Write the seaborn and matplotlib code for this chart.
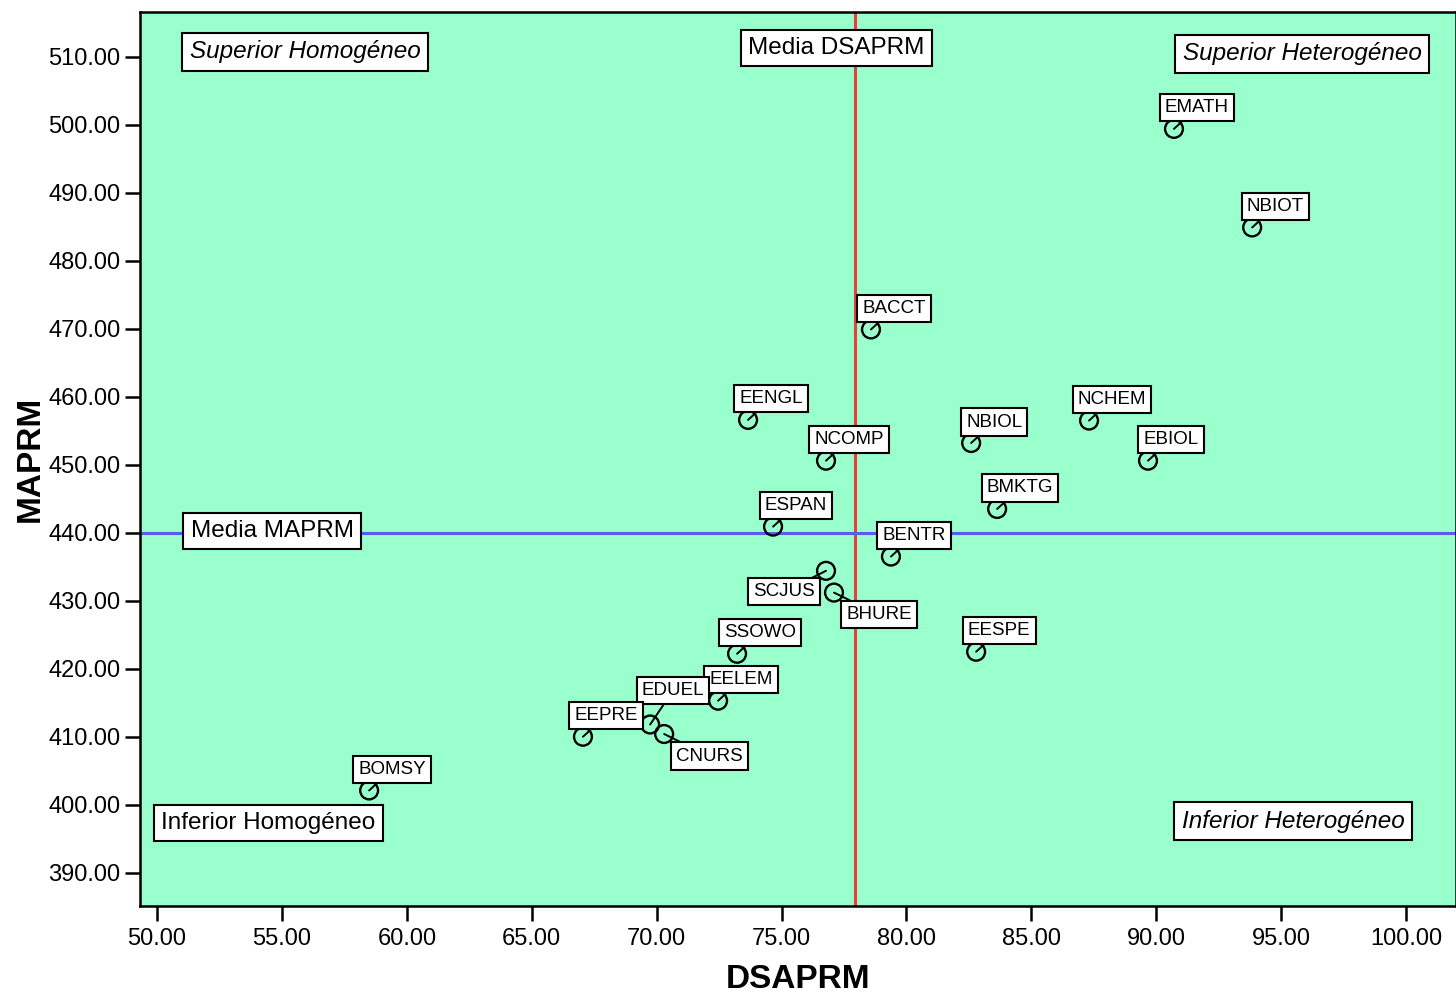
import numpy as np
import pandas as pd
import matplotlib
matplotlib.use("Agg")
import matplotlib.pyplot as plt
import seaborn as sns

# -----------------------------
# DATA
# -----------------------------
programas = ["EMATH", "NBIOT", "BACCT", "EENGL", "NCOMP", "NBIOL", "NCHEM",
             "EBIOL", "BMKTG", "ESPAN", "BENTR", "SCJUS", "BHURE", "SSOWO",
             "EESPE", "EELEM", "EDUEL", "CNURS", "EEPRE", "BOMSY"]
dsaprm = [90.71, 93.84, 78.58, 73.66, 76.78, 82.59, 87.31,
          89.67, 83.63, 74.66, 79.38, 76.78, 77.10, 73.22,
          82.79, 72.46, 69.74, 70.30, 67.05, 58.49]
maprm = [499.4, 484.9, 469.9, 456.6, 450.6, 453.2, 456.5,
         450.6, 443.5, 440.9, 436.5, 434.4, 431.2, 422.2,
         422.5, 415.3, 411.8, 410.4, 410.0, 402.1]

media_dsaprm = 77.94
media_maprm = 440.0

x_ticks = np.arange(50, 101, 5)
y_ticks = np.arange(390, 511, 10)

df = pd.DataFrame({"Programa": programas, "DSAPRM": dsaprm, "MAPRM": maprm})

# label offsets (pixels) where the label is not up-right of the point
offsets = {"SCJUS": (-42, -21), "BHURE": (45, -22),
           "CNURS": (45, -22), "EDUEL": (23, 34)}

# -----------------------------
# PLOT
# -----------------------------
sns.set_style("ticks")
plt.rcParams["font.family"] = ["Liberation Sans", "DejaVu Sans"]
plt.rcParams["text.color"] = "black"
plt.rcParams["axes.labelcolor"] = "black"
plt.rcParams["xtick.color"] = "black"
plt.rcParams["ytick.color"] = "black"

fig = plt.figure(figsize=(14.56, 9.94), dpi=100)
ax = fig.add_axes([0.0962, 0.0885, 0.9038, 0.8995])
ax.set_facecolor("#99FFCC")

ax.axvline(media_dsaprm, color="#EE3B3B", lw=2.2, zorder=1)
ax.axhline(media_maprm, color="#5B5BEF", lw=2.2, zorder=1)

sns.scatterplot(data=df, x="DSAPRM", y="MAPRM", ax=ax, marker="o", s=165,
                facecolors="none", edgecolor="black", linewidth=1.7, zorder=3)

box = dict(boxstyle="square,pad=0.27", fc="white", ec="black", lw=1.5)
for code, xv, yv in zip(programas, dsaprm, maprm):
    off = offsets.get(code, (23, 21))
    ax.annotate(code, xy=(xv, yv), xytext=off, textcoords="offset pixels",
                ha="center", va="center", fontsize=13.5, bbox=box, zorder=4,
                arrowprops=dict(arrowstyle="-", color="black", lw=1.4,
                                shrinkA=0, shrinkB=0))

# quadrant / mean labels
qbox = dict(boxstyle="square,pad=0.3", fc="white", ec="black", lw=1.5)
quad = [("Superior Homogéneo", 0.1254, 0.9553, "italic"),
        ("Media DSAPRM", 0.5289, 0.9597, "normal"),
        ("Superior Heterogéneo", 0.8830, 0.9530, "italic"),
        ("Media MAPRM", 0.1003, 0.4195, "normal"),
        ("Inferior Homogéneo", 0.0973, 0.0928, "normal"),
        ("Inferior Heterogéneo", 0.8761, 0.0951, "italic")]
for txt, fx, fy, st in quad:
    ax.text(fx, fy, txt, transform=ax.transAxes, ha="center", va="center",
            fontsize=17.5, style=st, bbox=qbox, zorder=5)

ax.set_xlim(49.32, 102.0)
ax.set_ylim(385.1, 516.6)
ax.set_xticks(x_ticks)
ax.set_yticks(y_ticks)
ax.set_xticklabels([f"{v:.2f}" for v in x_ticks])
ax.set_yticklabels([f"{v:.2f}" for v in y_ticks])
ax.tick_params(length=10.5, width=1.8, labelsize=17, color="black")
ax.tick_params(axis="x", pad=5.5)
ax.tick_params(axis="y", pad=3.5)

for sp in ax.spines.values():
    sp.set_linewidth(1.8)
    sp.set_color("black")

ax.set_xlabel("DSAPRM", fontsize=24, fontweight="bold", labelpad=10)
ax.set_ylabel("MAPRM", fontsize=24, fontweight="bold", labelpad=2)

plt.savefig("out.png", dpi=100)
plt.close()
